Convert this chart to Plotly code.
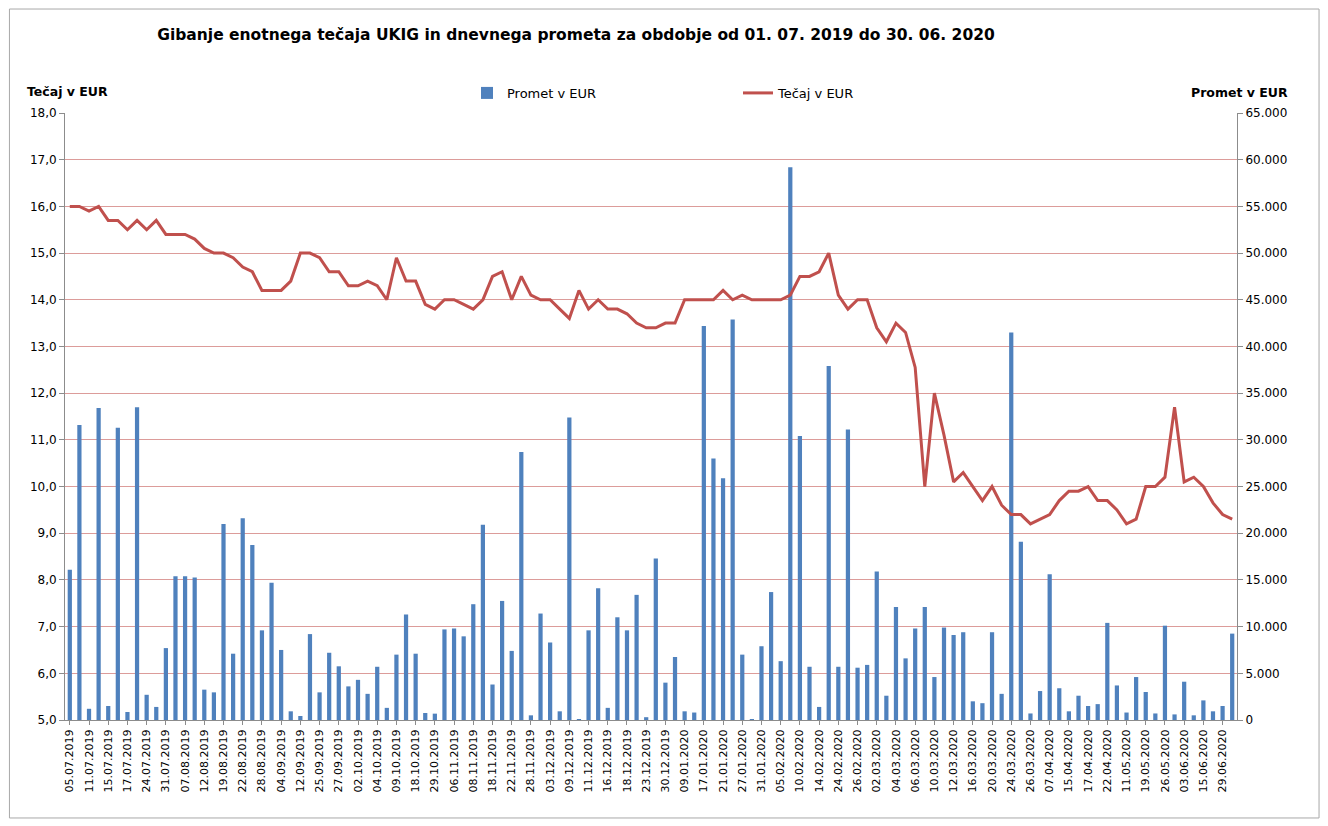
# Libraries
# =====================================================================
import plotly.graph_objects as go

# Data
# =====================================================================
datumi = [
    "05.07.2019", "09.07.2019", "11.07.2019", "12.07.2019", "15.07.2019", "16.07.2019", "17.07.2019", "19.07.2019", "24.07.2019", "26.07.2019",
    "31.07.2019", "02.08.2019", "07.08.2019", "09.08.2019", "12.08.2019", "14.08.2019", "19.08.2019", "20.08.2019", "22.08.2019", "26.08.2019",
    "28.08.2019", "30.08.2019", "04.09.2019", "06.09.2019", "12.09.2019", "18.09.2019", "25.09.2019", "26.09.2019", "27.09.2019", "30.09.2019",
    "02.10.2019", "03.10.2019", "04.10.2019", "07.10.2019", "09.10.2019", "15.10.2019", "18.10.2019", "23.10.2019", "29.10.2019", "04.11.2019",
    "06.11.2019", "07.11.2019", "08.11.2019", "13.11.2019", "18.11.2019", "20.11.2019", "22.11.2019", "26.11.2019", "28.11.2019", "02.12.2019",
    "03.12.2019", "05.12.2019", "09.12.2019", "10.12.2019", "11.12.2019", "13.12.2019", "16.12.2019", "17.12.2019", "18.12.2019", "20.12.2019",
    "23.12.2019", "27.12.2019", "30.12.2019", "06.01.2020", "09.01.2020", "14.01.2020", "17.01.2020", "20.01.2020", "21.01.2020", "23.01.2020",
    "27.01.2020", "29.01.2020", "31.01.2020", "03.02.2020", "05.02.2020", "07.02.2020", "10.02.2020", "12.02.2020", "14.02.2020", "18.02.2020",
    "24.02.2020", "25.02.2020", "26.02.2020", "28.02.2020", "02.03.2020", "03.03.2020", "04.03.2020", "05.03.2020", "06.03.2020", "09.03.2020",
    "10.03.2020", "11.03.2020", "12.03.2020", "13.03.2020", "16.03.2020", "18.03.2020", "20.03.2020", "23.03.2020", "24.03.2020", "25.03.2020",
    "26.03.2020", "01.04.2020", "07.04.2020", "09.04.2020", "15.04.2020", "16.04.2020", "17.04.2020", "21.04.2020", "22.04.2020", "29.04.2020",
    "11.05.2020", "13.05.2020", "19.05.2020", "21.05.2020", "26.05.2020", "28.05.2020", "03.06.2020", "08.06.2020", "15.06.2020", "23.06.2020",
    "29.06.2020", "30.06.2020",
]

# Daily turnover in EUR
promet = [
    16100, 31600, 1200, 33400, 1500, 31300, 860, 33500, 2700, 1400,
    7700, 15400, 15400, 15250, 3250, 2960, 21000, 7100, 21600, 18750,
    9600, 14700, 7500, 930, 430, 9200, 2960, 7200, 5750, 3600,
    4300, 2800, 5700, 1300, 7000, 11300, 7100, 750, 680, 9700,
    9800, 8960, 12400, 20900, 3800, 12750, 7400, 28700, 500, 11400,
    8300, 930, 32400, 100, 9600, 14100, 1300, 11000, 9600, 13400,
    300, 17300, 4000, 6750, 930, 800, 42200, 28000, 25900, 42900,
    7000, 70, 7900, 13700, 6300, 59200, 30400, 5700, 1400, 37900,
    5700, 31100, 5600, 5900, 15900, 2600, 12100, 6600, 9800, 12100,
    4600, 9900, 9100, 9400, 2000, 1800, 9400, 2800, 41500, 19100,
    700, 3100, 15600, 3400, 930, 2600, 1500, 1700, 10400, 3700,
    800, 4600, 3000, 700, 10100, 600, 4100, 500, 2100, 930,
    1500, 9250,
]

# Unit price in EUR
tecaj = [
    16.0, 16.0, 15.9, 16.0, 15.7, 15.7, 15.5, 15.7, 15.5, 15.7,
    15.4, 15.4, 15.4, 15.3, 15.1, 15.0, 15.0, 14.9, 14.7, 14.6,
    14.2, 14.2, 14.2, 14.4, 15.0, 15.0, 14.9, 14.6, 14.6, 14.3,
    14.3, 14.4, 14.3, 14.0, 14.9, 14.4, 14.4, 13.9, 13.8, 14.0,
    14.0, 13.9, 13.8, 14.0, 14.5, 14.6, 14.0, 14.5, 14.1, 14.0,
    14.0, 13.8, 13.6, 14.2, 13.8, 14.0, 13.8, 13.8, 13.7, 13.5,
    13.4, 13.4, 13.5, 13.5, 14.0, 14.0, 14.0, 14.0, 14.2, 14.0,
    14.1, 14.0, 14.0, 14.0, 14.0, 14.1, 14.5, 14.5, 14.6, 15.0,
    14.1, 13.8, 14.0, 14.0, 13.4, 13.1, 13.5, 13.3, 12.55, 10.0,
    12.0, 11.1, 10.1, 10.3, 10.0, 9.7, 10.0, 9.6, 9.4, 9.4,
    9.2, 9.3, 9.4, 9.7, 9.9, 9.9, 10.0, 9.7, 9.7, 9.5,
    9.2, 9.3, 10.0, 10.0, 10.2, 11.7, 10.1, 10.2, 10.0, 9.65,
    9.4, 9.3,
]

# Only every other date is labelled on the axis
oznake = datumi[::2]

# Data Visualization
# =====================================================================
fig = go.Figure()

FONT = "DejaVu Sans"
GRID = "#DC9C9A"
AXIS = "#8C8C8C"

# Turnover bars (right axis)
fig.add_trace(go.Bar(
    x=datumi,
    y=promet,
    name="Promet v EUR",
    marker=dict(color="#4F81BD", line=dict(width=0)),
    yaxis="y",
))

# Price line (left axis)
fig.add_trace(go.Scatter(
    x=datumi,
    y=tecaj,
    mode="lines",
    name="Tečaj v EUR",
    line=dict(color="#C0504D", width=3),
    yaxis="y2",
))

# The page body adds an 8px offset, so the figure is 8px smaller
fig.update_layout(
    width=1320,
    height=818,
    margin=dict(l=57, r=91, t=105, b=106),
    plot_bgcolor="white",
    paper_bgcolor="white",
    separators=",.",
    font=dict(family=FONT, size=12, color="black"),
    bargap=0.56,
    title=dict(
        text="<b>Gibanje enotnega tečaja UKIG in dnevnega prometa za obdobje od 01. 07. 2019 do 30. 06. 2020</b>",
        x=0.4303,
        xanchor="center",
        y=0.967,
        yanchor="middle",
        font=dict(family=FONT, size=15.5, color="black"),
    ),
    xaxis=dict(
        type="category",
        tickvals=oznake,
        ticktext=oznake,
        tickangle=-90,
        tickfont=dict(size=11),
        ticks="outside",
        ticklen=4,
        tickcolor=AXIS,
        showline=True,
        linecolor=AXIS,
        linewidth=1,
        showgrid=False,
    ),
    yaxis=dict(
        side="right",
        range=[0, 65000],
        dtick=5000,
        tickformat=",d",
        showgrid=True,
        gridcolor=GRID,
        gridwidth=1,
        zeroline=False,
        showline=True,
        linecolor=AXIS,
        linewidth=1,
        ticks="outside",
        ticklen=5,
        tickcolor=AXIS,
        tickfont=dict(size=12),
    ),
    yaxis2=dict(
        side="left",
        overlaying="y",
        range=[5, 18],
        dtick=1,
        tickformat=".1f",
        showgrid=False,
        zeroline=False,
        showline=True,
        linecolor=AXIS,
        linewidth=1,
        ticks="outside",
        ticklen=5,
        tickcolor=AXIS,
        tickfont=dict(size=12),
    ),
    legend=dict(
        orientation="h",
        x=0.343,
        y=1.033,
        xanchor="left",
        yanchor="middle",
        entrywidth=226,
        entrywidthmode="pixels",
        font=dict(size=13),
        bgcolor="rgba(0,0,0,0)",
    ),
    annotations=[
        dict(
            text="<b>Tečaj v EUR</b>",
            xref="paper", yref="paper",
            x=-0.0341, y=1.036,
            xanchor="left", yanchor="middle",
            showarrow=False,
            font=dict(size=12.5),
        ),
        dict(
            text="<b>Promet v EUR</b>",
            xref="paper", yref="paper",
            x=1.0452, y=1.033,
            xanchor="right", yanchor="middle",
            showarrow=False,
            font=dict(size=12.5),
        ),
    ],
    shapes=[
        # Outer chart border
        dict(
            type="rect",
            xref="paper", yref="paper",
            x0=-0.0474, x1=1.0700,
            y0=-0.1614, y1=1.1713,
            line=dict(color="#A8A8A8", width=1),
            fillcolor="rgba(0,0,0,0)",
            layer="below",
        ),
    ],
)

# Save as HTML file!
fig.write_html("out.html")
